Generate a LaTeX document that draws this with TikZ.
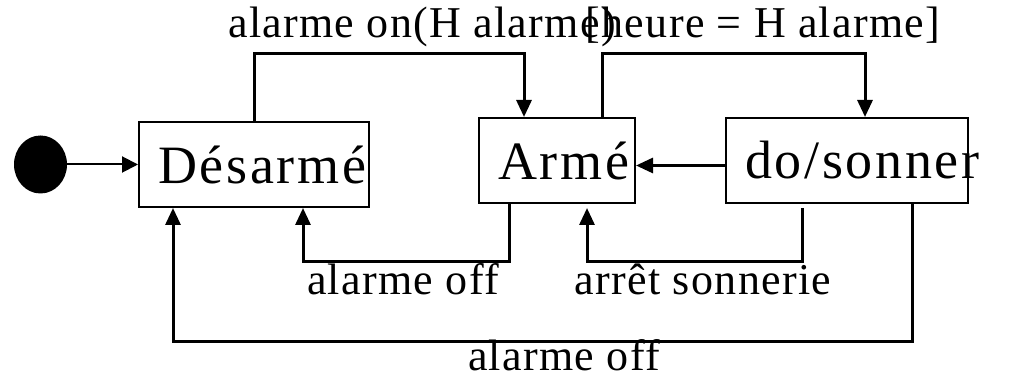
\documentclass[tikz,border=0pt]{standalone}
\usepackage{fontspec}
\setmainfont{Liberation Serif}
\newfontfamily\etatfont[LetterSpace=5]{Liberation Serif}
\newfontfamily\transfont[LetterSpace=3]{Liberation Serif}
\usepackage{tikz}
\usetikzlibrary{arrows.meta, shapes.geometric}

\tikzset{
    etat/.style={draw, line width=1pt, minimum height=42.5pt, inner xsep=9.5pt, align=left,
        font=\etatfont\fontsize{27pt}{30pt}\selectfont},
    trans/.style={line width=1.5pt, -{Triangle[length=8.5pt, width=7.5pt]}},
    evt/.style={anchor=base, inner sep=0pt, font=\transfont\fontsize{22pt}{26pt}\selectfont},
}

\begin{document}
\begin{tikzpicture}[x=0.5pt, y=-0.5pt]
    \useasboundingbox (0,0) rectangle (1011,378);

    \node [ellipse, fill=black, minimum width=26.5pt, minimum height=29pt, inner sep=0pt] (init) at (40.5,164.5) {};

    \node [etat, text width=96pt] (desarme) at (254,164.5) {Désarmé};
    \node [etat, text width=59pt] (arme) at (557,160.5) {Armé};
    \node [etat, text width=102pt] (sonner) at (847,160.5) {do/sonner};

    % niveaux des transitions
    \coordinate (haut) at (0,54);
    \coordinate (bas) at (0,262);
    \coordinate (basbas) at (0,342);

    \draw [line width=1pt, -{Triangle[length=8pt, width=8pt]}] (init) -- (init -| desarme.west);

    % dessus
    \draw [trans] (desarme.north) -- (desarme.north |- haut) -| ([xshift=-16.5pt]arme.north);
    \draw [trans] ([xshift=22.5pt]arme.north) -- ([xshift=22.5pt]arme.north |- haut) -| ([xshift=9pt]sonner.north);

    \draw [trans] ([yshift=-2.5pt]sonner.west) -- ([yshift=-2.5pt]arme.east);

    % dessous
    \draw [trans] ([xshift=-24pt]arme.south) -- ([xshift=-24pt]arme.south |- bas) -| ([xshift=24.5pt]desarme.south);
    \draw [trans] ([xshift=-22.5pt, yshift=-2pt]sonner.south) -- ([xshift=-22.5pt]sonner.south |- bas) -| ([xshift=15pt, yshift=-2pt]arme.south);
    \draw [trans] ([xshift=32.5pt]sonner.south) -- ([xshift=32.5pt]sonner.south |- basbas) -| ([xshift=-40.5pt]desarme.south);

    % evenements
    \node [evt] (lOn) at (422,38) {alarme on(H alarme)};
    \node [evt] (lHeure) at (763,38) {[heure = H alarme]};
    \node [evt] (lOff) at (403,295) {alarme off};
    \node [evt] (lArret) at (703,295) {arrêt sonnerie};
    \node [evt] (lOffBas) at (564,371) {alarme off};
\end{tikzpicture}
\end{document}
